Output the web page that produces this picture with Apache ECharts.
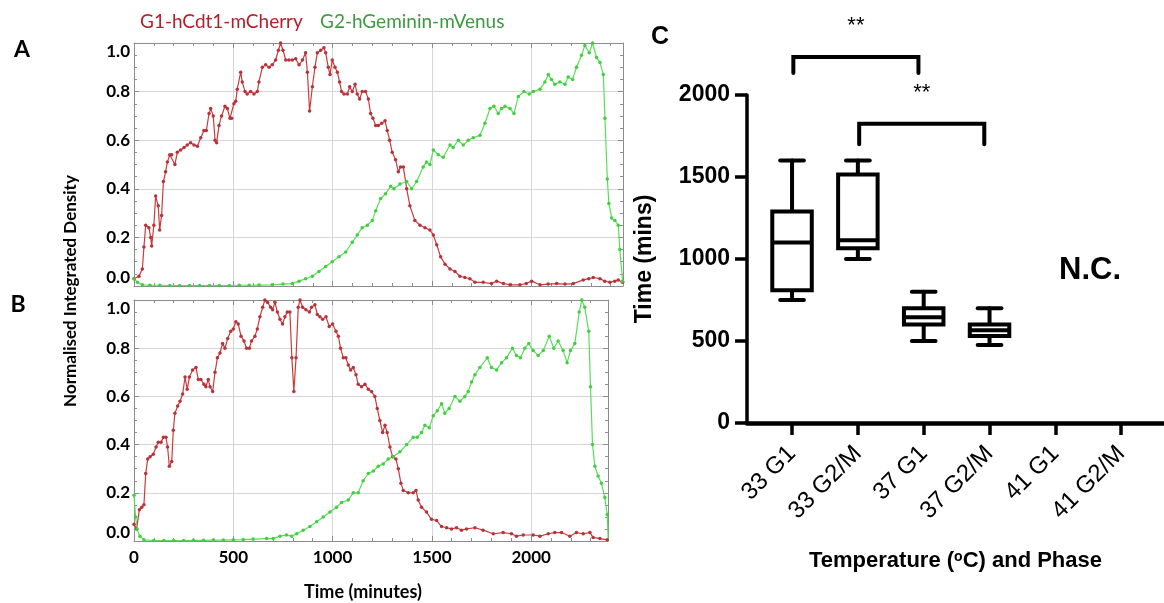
<!DOCTYPE html>
<html><head><meta charset="utf-8">
<script src="https://cdn.jsdelivr.net/npm/echarts@6/dist/echarts.min.js"></script>
<style>html,body{margin:0;padding:0;background:#fff}#c{width:1164px;height:603px}</style>
</head><body><div id="c"></div><script>
// ---------- Panel A (time in minutes, normalised density) ----------
const redA = [[0,0.03],[25,0.04],[42,0.07],[50,0.16],[59,0.25],[75,0.24],[84,0.2],[89,0.165],[100,0.25],[109,0.37],[122,0.33],[129,0.23],[139,0.29],[148,0.43],[159,0.47],[168,0.51],[180,0.54],[190,0.54],[206,0.5],[218,0.55],[235,0.56],[252,0.57],[268,0.58],[285,0.59],[302,0.58],[319,0.575],[336,0.61],[352,0.64],[364,0.64],[378,0.71],[386,0.73],[399,0.7],[408,0.6],[416,0.59],[428,0.66],[441,0.7],[458,0.74],[470,0.73],[483,0.69],[492,0.69],[503,0.75],[512,0.76],[520,0.81],[537,0.88],[545,0.84],[559,0.8],[570,0.79],[587,0.8],[604,0.79],[621,0.8],[629,0.84],[646,0.9],[663,0.91],[680,0.9],[696,0.91],[713,0.93],[727,0.97],[738,1.0],[750,0.97],[764,0.93],[780,0.93],[797,0.93],[814,0.935],[831,0.91],[848,0.93],[864,0.96],[873,0.88],[884,0.72],[898,0.82],[911,0.9],[923,0.96],[940,0.97],[956,0.98],[965,0.96],[978,0.9],[987,0.87],[998,0.93],[1012,0.9],[1024,0.88],[1035,0.84],[1045,0.8],[1057,0.79],[1074,0.79],[1086,0.82],[1099,0.8],[1113,0.83],[1124,0.79],[1136,0.77],[1149,0.8],[1166,0.8],[1180,0.77],[1191,0.71],[1203,0.69],[1217,0.66],[1230,0.66],[1247,0.67],[1264,0.68],[1275,0.64],[1287,0.6],[1300,0.55],[1317,0.52],[1331,0.47],[1342,0.49],[1356,0.49],[1373,0.4],[1389,0.33],[1414,0.27],[1440,0.25],[1465,0.24],[1490,0.23],[1507,0.21],[1524,0.17],[1544,0.12],[1566,0.09],[1591,0.07],[1616,0.06],[1641,0.04],[1666,0.035],[1691,0.03],[1717,0.015],[1758,0.015],[1800,0.01],[1826,0.02],[1860,0.01],[1893,0.005],[1943,0.005],[1975,0.01],[2002,0.02],[2044,0.005],[2085,0.008],[2128,0.01],[2170,0.008],[2212,0.01],[2262,0.025],[2290,0.03],[2312,0.035],[2346,0.03],[2370,0.02],[2396,0.015],[2420,0.02],[2438,0.025],[2460,0.015]];
const greenA = [[0,0.03],[17,0.015],[42,0.005],[80,0.003],[130,0.003],[180,0.002],[230,0.002],[280,0.002],[330,0.002],[380,0.002],[430,0.002],[480,0.002],[530,0.003],[580,0.003],[630,0.004],[696,0.005],[750,0.008],[797,0.01],[831,0.02],[864,0.03],[898,0.04],[931,0.06],[965,0.08],[998,0.1],[1032,0.12],[1066,0.14],[1099,0.18],[1124,0.21],[1149,0.24],[1175,0.25],[1200,0.27],[1217,0.31],[1242,0.36],[1267,0.38],[1292,0.41],[1309,0.4],[1339,0.42],[1373,0.43],[1398,0.4],[1423,0.43],[1456,0.49],[1473,0.51],[1490,0.5],[1507,0.56],[1532,0.54],[1557,0.53],[1591,0.58],[1607,0.57],[1633,0.6],[1658,0.58],[1683,0.6],[1708,0.61],[1742,0.62],[1767,0.67],[1792,0.73],[1812,0.74],[1834,0.71],[1851,0.73],[1868,0.74],[1893,0.73],[1913,0.71],[1935,0.78],[1963,0.8],[1990,0.79],[2010,0.8],[2044,0.81],[2069,0.84],[2086,0.87],[2102,0.85],[2119,0.83],[2144,0.84],[2170,0.83],[2186,0.86],[2208,0.85],[2228,0.9],[2253,0.95],[2270,0.99],[2292,0.96],[2309,1.0],[2329,0.94],[2346,0.92],[2363,0.87],[2371,0.69],[2383,0.44],[2391,0.34],[2405,0.28],[2421,0.27],[2438,0.25],[2446,0.15],[2460,0.02]];
// ---------- Panel B ----------
const redB = [[0,0.07],[13,0.05],[27,0.13],[39,0.14],[50,0.15],[59,0.28],[69,0.34],[81,0.35],[97,0.36],[111,0.39],[122,0.41],[136,0.41],[148,0.43],[161,0.43],[169,0.39],[178,0.31],[190,0.33],[198,0.46],[206,0.53],[220,0.56],[232,0.58],[245,0.61],[257,0.68],[268,0.63],[279,0.68],[295,0.71],[312,0.72],[324,0.67],[337,0.67],[352,0.65],[362,0.64],[374,0.67],[383,0.64],[396,0.62],[408,0.7],[420,0.76],[433,0.78],[446,0.82],[458,0.8],[472,0.84],[487,0.87],[500,0.88],[513,0.91],[525,0.9],[539,0.85],[554,0.83],[567,0.8],[581,0.8],[592,0.83],[609,0.85],[621,0.88],[634,0.93],[648,0.97],[659,1.0],[673,0.99],[688,0.97],[698,0.96],[710,0.99],[722,0.95],[735,0.92],[748,0.9],[760,0.93],[772,0.95],[785,0.95],[795,0.76],[805,0.62],[816,0.76],[827,0.97],[836,1.0],[849,0.97],[866,0.96],[883,0.95],[894,0.97],[911,0.98],[923,0.94],[936,0.93],[950,0.92],[967,0.93],[983,0.89],[1000,0.9],[1017,0.87],[1029,0.85],[1040,0.8],[1054,0.76],[1067,0.76],[1079,0.73],[1091,0.71],[1104,0.72],[1118,0.69],[1129,0.65],[1146,0.64],[1163,0.65],[1180,0.63],[1196,0.62],[1213,0.6],[1225,0.55],[1238,0.5],[1252,0.45],[1264,0.48],[1275,0.45],[1289,0.39],[1302,0.35],[1319,0.34],[1331,0.3],[1344,0.24],[1356,0.21],[1381,0.2],[1406,0.2],[1420,0.21],[1431,0.17],[1448,0.14],[1473,0.12],[1498,0.09],[1524,0.085],[1549,0.06],[1574,0.055],[1599,0.05],[1624,0.055],[1649,0.045],[1675,0.05],[1717,0.055],[1758,0.045],[1809,0.03],[1859,0.035],[1901,0.03],[1926,0.02],[1960,0.025],[2010,0.025],[2044,0.02],[2086,0.03],[2119,0.035],[2153,0.035],[2195,0.02],[2228,0.035],[2262,0.03],[2296,0.035],[2312,0.015],[2346,0.01],[2383,0.005]];
const greenB = [[0,0.19],[8,0.1],[15,0.05],[30,0.02],[50,0.005],[100,0.002],[150,0.002],[200,0.002],[250,0.002],[300,0.003],[350,0.003],[400,0.004],[450,0.004],[500,0.005],[550,0.006],[600,0.008],[668,0.01],[701,0.01],[735,0.02],[768,0.025],[794,0.02],[819,0.03],[852,0.045],[886,0.06],[920,0.08],[953,0.1],[987,0.12],[1020,0.14],[1045,0.16],[1079,0.17],[1104,0.2],[1129,0.2],[1154,0.25],[1180,0.28],[1205,0.29],[1230,0.31],[1255,0.32],[1280,0.34],[1305,0.35],[1339,0.37],[1373,0.4],[1406,0.43],[1426,0.43],[1448,0.45],[1465,0.48],[1487,0.47],[1507,0.52],[1527,0.54],[1549,0.57],[1565,0.53],[1587,0.55],[1616,0.6],[1641,0.58],[1666,0.6],[1683,0.62],[1700,0.66],[1717,0.69],[1742,0.72],[1779,0.76],[1800,0.72],[1826,0.71],[1851,0.74],[1876,0.76],[1906,0.8],[1926,0.77],[1946,0.76],[1968,0.8],[1988,0.82],[2010,0.79],[2035,0.77],[2061,0.79],[2091,0.85],[2114,0.8],[2136,0.83],[2161,0.79],[2181,0.74],[2198,0.79],[2220,0.82],[2242,0.95],[2255,1.0],[2270,0.97],[2290,0.87],[2299,0.64],[2309,0.4],[2321,0.31],[2337,0.27],[2354,0.24],[2371,0.18],[2383,0.11],[2388,0.005]];
// ---------- Panel C (box plot, minutes) ----------
const categories = ['33 G1', '33 G2/M', '37 G1', '37 G2/M', '41 G1', '41 G2/M'];
const boxMin    = [750, 1000, 500, 475];
const boxQ1     = [810, 1065, 600, 530];
const boxMedian = [1100, 1115, 645, 565];
const boxQ3     = [1290, 1515, 700, 600];
const boxMax    = [1600, 1600, 800, 700];
const compareFrom = [0, 1];
const compareTo   = [2, 3];
const compareLegEnd = [2134, 1700];
const compareTop    = [2232, 1825];
const compareText   = ['**', '**'];

const FA = 'Lato, "Open Sans", sans-serif';
const FC = '"Liberation Sans", Arial, sans-serif';
const GRAY = '#8c8c8c';

function lineAxis(pos, show, extra) {
  return Object.assign({
    type: 'value', position: pos,
    axisLine: {show: true, onZero: false, lineStyle: {color: GRAY, width: 1}},
    axisTick: {show: true, inside: true, length: 5, lineStyle: {color: GRAY}},
    splitLine: {show: show, lineStyle: {color: '#d6d6d6', width: 1}},
    axisLabel: {show: false}
  }, extra);
}
function xAx(gi, pos, max, labels) {
  return lineAxis(pos, pos === 'bottom', {
    gridIndex: gi, min: 0, max: max, interval: 500,
    minorTick: {show: true, splitNumber: 5, length: 3, lineStyle: {color: GRAY}},
    axisLabel: labels ? {show: true, showMaxLabel: false, margin: 8, color: '#000', fontFamily: FA, fontWeight: 'bold', fontSize: 17,
      formatter: v => String(Math.round(v))} : {show: false}
  });
}
function yAx(gi, pos, labels) {
  return lineAxis(pos, pos === 'left', {
    gridIndex: gi, min: 0, max: 1, interval: 0.2,
    minorTick: {show: true, splitNumber: 4, length: 3, lineStyle: {color: GRAY}},
    axisLabel: labels ? {show: true, margin: 4, color: '#000', fontFamily: FA, fontWeight: 'bold', fontSize: 17,
      verticalAlignMaxLabel: 'top', verticalAlignMinLabel: 'bottom',
      formatter: v => v.toFixed(1)} : {show: false}
  });
}
function trace(data, xi, yi, line, dot) {
  return {type: 'line', data: data, xAxisIndex: xi, yAxisIndex: yi, symbol: 'circle', symbolSize: 3.5,
    showAllSymbol: true, animation: false, lineStyle: {color: line, width: 1.2}, itemStyle: {color: dot}};
}

const boxData = boxMin.map((v, i) => [i, boxMin[i], boxQ1[i], boxMedian[i], boxQ3[i], boxMax[i]]);
const compData = compareFrom.map((v, i) => [compareFrom[i], compareTo[i], compareLegEnd[i], compareTop[i]]);

const chart = echarts.init(document.getElementById('c'));
chart.setOption({
  animation: false,
  backgroundColor: '#fff',
  grid: [
    {left: 134, top: 43, width: 489, height: 243},
    {left: 134, top: 300, width: 474, height: 241},
    {left: 747, top: 95, width: 417, height: 328}
  ],
  xAxis: [
    xAx(0, 'bottom', 2462, false), xAx(0, 'top', 2462, false),
    xAx(1, 'bottom', 2387, true), xAx(1, 'top', 2387, false),
    {
      type: 'value', gridIndex: 2, min: -0.684, max: 5.65,
      axisLine: {show: true, onZero: false, lineStyle: {color: '#000', width: 4.5}},
      axisTick: {show: true, customValues: [0, 1, 2, 3, 4, 5], length: 12, lineStyle: {color: '#000', width: 3.5}},
      splitLine: {show: false},
      axisLabel: {show: true, customValues: [0, 1, 2, 3, 4, 5], formatter: v => categories[Math.round(v)],
        rotate: 45, margin: 27, color: '#000', fontFamily: FC, fontSize: 24},
      name: 'Temperature ({s|o}C) and Phase', nameLocation: 'middle', nameGap: 127,
      nameTextStyle: {color: '#000', fontFamily: FC, fontWeight: 'bold', fontSize: 22,
        rich: {s: {fontFamily: FC, fontWeight: 'bold', fontSize: 14, verticalAlign: 'top', color: '#000'}}}
    }
  ],
  yAxis: [
    yAx(0, 'left', true), yAx(0, 'right', false),
    yAx(1, 'left', true), yAx(1, 'right', false),
    {
      type: 'value', gridIndex: 2, min: 0, max: 2000, interval: 500,
      axisLine: {show: true, onZero: false, lineStyle: {color: '#000', width: 3.5}},
      axisTick: {show: true, length: 12, lineStyle: {color: '#000', width: 3.5}},
      splitLine: {show: false},
      axisLabel: {show: true, margin: 17, color: '#000', fontFamily: FC, fontWeight: 'bold', fontSize: 23,
        formatter: v => String(Math.round(v))},
      name: 'Time (mins)', nameLocation: 'middle', nameGap: 91,
      nameTextStyle: {color: '#000', fontFamily: FC, fontWeight: 'bold', fontSize: 23}
    }
  ],
  series: [
    trace(redA, 0, 0, '#cc3b3b', '#b8323a'),
    trace(greenA, 0, 0, '#5ade5a', '#3fcf3f'),
    trace(redB, 2, 2, '#cc3b3b', '#b8323a'),
    trace(greenB, 2, 2, '#5ade5a', '#3fcf3f'),
    {
      type: 'custom', xAxisIndex: 4, yAxisIndex: 4, data: boxData, clip: false,
      renderItem: function (params, api) {
        const x = api.value(0);
        const lo = api.coord([x, api.value(1)]), q1 = api.coord([x, api.value(2)]),
              md = api.coord([x, api.value(3)]), q3 = api.coord([x, api.value(4)]),
              hi = api.coord([x, api.value(5)]);
        const bw = api.size([0.6, 0])[0] / 2, cw = api.size([0.36, 0])[0] / 2;
        const st = {stroke: '#000', lineWidth: 4, lineCap: 'round'};
        return {type: 'group', children: [
          {type: 'line', shape: {x1: hi[0], y1: hi[1], x2: q3[0], y2: q3[1]}, style: st},
          {type: 'line', shape: {x1: lo[0], y1: lo[1], x2: q1[0], y2: q1[1]}, style: st},
          {type: 'line', shape: {x1: hi[0] - cw, y1: hi[1], x2: hi[0] + cw, y2: hi[1]}, style: st},
          {type: 'line', shape: {x1: lo[0] - cw, y1: lo[1], x2: lo[0] + cw, y2: lo[1]}, style: st},
          {type: 'rect', shape: {x: q3[0] - bw, y: q3[1], width: 2 * bw, height: q1[1] - q3[1]},
            style: {stroke: '#000', lineWidth: 4, fill: '#fff'}},
          {type: 'line', shape: {x1: md[0] - bw, y1: md[1], x2: md[0] + bw, y2: md[1]}, style: {stroke: '#000', lineWidth: 4}}
        ]};
      }
    },
    {
      type: 'custom', xAxisIndex: 4, yAxisIndex: 4, data: compData, clip: false,
      renderItem: function (params, api) {
        const a = api.value(0) + 0.02, b = api.value(1) - 0.08;
        const p1 = api.coord([a, api.value(2)]), p2 = api.coord([a, api.value(3)]),
              p3 = api.coord([b, api.value(3)]), p4 = api.coord([b, api.value(2)]);
        return {type: 'group', children: [
          {type: 'polyline', shape: {points: [p1, p2, p3, p4]},
            style: {stroke: '#000', lineWidth: 4, fill: null, lineJoin: 'miter', lineCap: 'round'}},
          {type: 'text', x: (p2[0] + p3[0]) / 2, y: p2[1] - 31,
            style: {text: compareText[params.dataIndex], fill: '#000', fontFamily: FC, fontSize: 22,
              align: 'center', verticalAlign: 'middle'}}
        ]};
      }
    }
  ],
  graphic: [
    {type: 'text', left: 140, top: 12, style: {text: 'G1-hCdt1-mCherry', fill: '#b3202c', fontFamily: FA, fontSize: 19}},
    {type: 'text', left: 320, top: 12, style: {text: 'G2-hGeminin-mVenus', fill: '#3d9b3f', fontFamily: FA, fontSize: 19}},
    {type: 'text', x: 22, y: 50, style: {text: 'A', fill: '#000', fontFamily: FA, fontWeight: 'bold', fontSize: 23, align: 'center', verticalAlign: 'middle'}},
    {type: 'text', x: 18, y: 305, style: {text: 'B', fill: '#000', fontFamily: FA, fontWeight: 'bold', fontSize: 23, align: 'center', verticalAlign: 'middle'}},
    {type: 'text', x: 660, y: 37, style: {text: 'C', fill: '#000', fontFamily: FC, fontWeight: 'bold', fontSize: 25, align: 'center', verticalAlign: 'middle'}},
    {type: 'text', x: 71, y: 291, rotation: Math.PI / 2, style: {text: 'Normalised Integrated Density', fill: '#000', fontFamily: FA, fontWeight: 'bold', fontSize: 17, align: 'center', verticalAlign: 'middle'}},
    {type: 'text', x: 363, y: 592, style: {text: 'Time (minutes)', fill: '#000', fontFamily: FA, fontWeight: 'bold', fontSize: 18, align: 'center', verticalAlign: 'middle'}},
    {type: 'text', x: 1090, y: 270, style: {text: 'N.C.', fill: '#000', fontFamily: FC, fontWeight: 'bold', fontSize: 31, align: 'center', verticalAlign: 'middle'}}
  ]
});
</script></body></html>
